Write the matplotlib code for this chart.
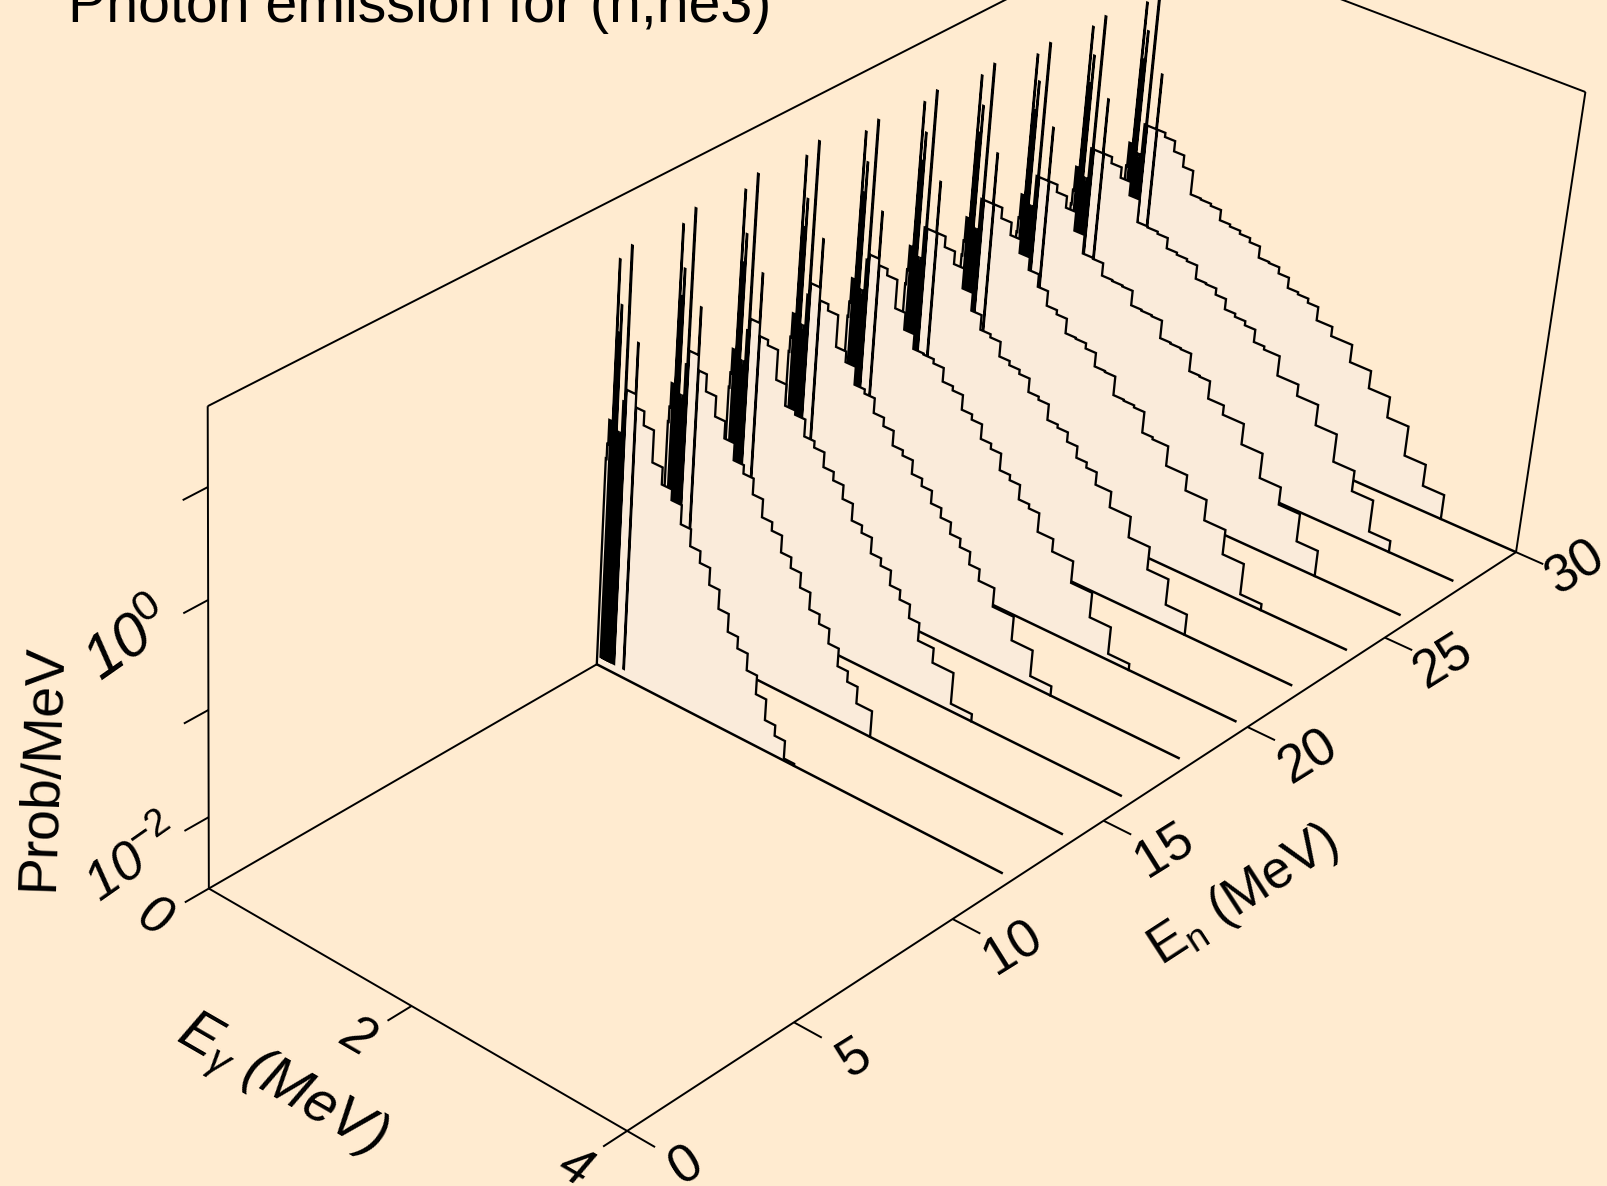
import numpy as np
import matplotlib
matplotlib.use("Agg")
import matplotlib.pyplot as plt

plt.rcParams["font.family"] = ["Liberation Sans", "DejaVu Sans"]
plt.rcParams["mathtext.fontset"] = "custom"
plt.rcParams["mathtext.rm"] = "Liberation Sans"
plt.rcParams["mathtext.it"] = "Liberation Sans:italic"

# incident energies of the slices (MeV), front to back
en_slices = [12, 14, 16, 18, 20, 22, 24, 26, 28, 30]

# photon energy bin edges of the continuum (MeV)
bin_edges = [0.27, 0.35, 0.45, 0.55, 0.65, 0.75, 0.85, 0.95, 1.05, 1.15, 1.25, 1.35, 1.45, 1.55,
             1.65, 1.75, 1.85, 1.95, 2.10, 2.30, 2.50, 2.70, 2.90, 3.10, 3.30]

# log10(prob/MeV) of the continuum bins for every slice
log_en12 = [-0.09, -0.22, -0.52, -0.68, -0.78, -0.96, -1.12, -1.23, -1.39, -1.57, -1.74, -1.85, -2.01, -2.19,
            -2.39, -2.49, -2.66]
log_en14 = [-0.06, -0.22, -0.41, -0.57, -0.73, -0.81, -0.96, -1.13, -1.21, -1.37, -1.47, -1.61, -1.77, -1.86,
            -2.00, -2.17, -2.27, -2.43]
log_en16 = [-0.05, -0.10, -0.38, -0.58, -0.62, -0.78, -0.84, -0.98, -1.06, -1.19, -1.35, -1.42, -1.57, -1.64,
            -1.78, -1.87, -2.00, -2.17, -2.31, -2.61]
log_en18 = [-0.02, -0.08, -0.38, -0.48, -0.65, -0.69, -0.83, -0.91, -1.05, -1.10, -1.23, -1.30, -1.42, -1.51,
            -1.62, -1.70, -1.82, -1.93, -2.11, -2.34, -2.59]
log_en20 = [0.01, -0.05, -0.32, -0.48, -0.62, -0.63, -0.67, -0.80, -0.84, -0.98, -1.03, -1.17, -1.22, -1.38,
            -1.43, -1.57, -1.61, -1.79, -1.91, -2.12, -2.36, -2.62]
log_en22 = [0.02, -0.08, -0.20, -0.39, -0.56, -0.70, -0.73, -0.87, -0.91, -0.95, -1.08, -1.11, -1.26, -1.29,
            -1.38, -1.49, -1.54, -1.66, -1.81, -2.01, -2.23, -2.48]
log_en24 = [0.00, -0.10, -0.22, -0.35, -0.47, -0.59, -0.73, -0.77, -0.91, -0.92, -0.97, -1.10, -1.11, -1.29,
            -1.30, -1.32, -1.52, -1.54, -1.73, -1.88, -2.08, -2.32, -2.62]
log_en26 = [-0.07, -0.14, -0.25, -0.43, -0.61, -0.62, -0.74, -0.75, -0.76, -0.90, -0.91, -0.92, -1.09, -1.10,
            -1.11, -1.28, -1.29, -1.46, -1.55, -1.75, -1.99, -2.16, -2.43]
log_en28 = [-0.09, -0.15, -0.25, -0.38, -0.60, -0.61, -0.63, -0.73, -0.75, -0.77, -0.90, -0.91, -0.97, -1.07,
            -1.10, -1.14, -1.26, -1.29, -1.48, -1.59, -1.79, -2.06, -2.26, -2.57]
log_en30 = [-0.14, -0.18, -0.28, -0.39, -0.62, -0.63, -0.65, -0.75, -0.77, -0.80, -0.84, -0.95, -0.96, -1.02,
            -1.12, -1.14, -1.18, -1.31, -1.40, -1.57, -1.74, -1.94, -2.23, -2.44]
continuum = [log_en12, log_en14, log_en16, log_en18, log_en20, log_en22, log_en24, log_en26, log_en28, log_en30]

# the four tall gamma lines, log10(prob/MeV) per slice
line_a = [1.17, 1.19, 1.21, 1.23, 1.17, 1.16, 1.13, 1.05, 1.04, 1.00]
line_b = [0.77, 0.80, 0.82, 0.85, 0.90, 0.89, 0.86, 0.81, 0.78, 0.74]
line_c = [1.34, 1.38, 1.40, 1.41, 1.32, 1.31, 1.28, 1.20, 1.18, 1.14]
line_d = [0.50, 0.52, 0.53, 0.55, 0.51, 0.50, 0.48, 0.44, 0.43, 0.39]
# level between line c and line d, above the first continuum bin
shelf = [0.12, 0.14, 0.12, 0.12, 0.06, 0.0, 0.0, 0.0, 0.0, 0.0]

# low energy part, edges and levels relative to the first continuum bin
low_edges = [0.0, 0.008, 0.018, 0.034, 0.052, 0.057, 0.065, 0.070, 0.076, 0.080, 0.088, 0.093, 0.102, 0.107,
             0.115, 0.120, 0.130, 0.135, 0.145, 0.160]
low_level = [-0.6, -0.46, -0.23, -2.5, None, -2.5, 0.45, -2.5, 0.6, -2.5, None, -2.5, -0.3, -2.5,
             -0.35, -2.5, -0.3, -2.5, 0.0]

eg_ticks = [0, 2, 4]
en_ticks = [0, 5, 10, 15, 20, 25, 30]
z_ticks = [-2, -1, 0, 1]

BG = "#ffebd0"
FILL = "#faebda"
ZMIN, ZMAX = -2.68, 1.70


def fit_camera():
    # anchor points of the box: (Eg, En, log10 P) -> pixel
    pts = [(0, 0, ZMIN, 208, 889.3), (0, 0, ZMAX, 208, 404.8), (4, 0, ZMIN, 627.2, 1130.5),
           (4, 30, ZMIN, 1516.9, 551.4), (4, 30, ZMAX, 1586.5, 92.2), (0, 30, ZMAX, 1145, -74.5),
           (2, 0, ZMIN, 412, 1006.5), (4, 5, ZMIN, 794.3, 1022.8), (4, 10, ZMIN, 953, 919.3),
           (4, 15, ZMIN, 1103.8, 822), (4, 20, ZMIN, 1245.2, 725.6), (4, 25, ZMIN, 1383.6, 637.5),
           (0, 12, ZMIN, 597.5, 664), (0, 12, ZMIN, 597.5, 664), (0, 0, 1, 208, 486.7), (0, 0, 0, 208, 600),
           (0, 0, -1, 208, 709), (0, 0, -2, 208, 816.7),
           (0.25, 12, 0.50, 637.7, 340.7), (0.25, 20, 0.51, 882.3, 219.3), (0.25, 30, 0.39, 1164, 71.7)]
    rows = []
    for eg, en, z, px, py in pts:
        u, v, w = eg / 4, en / 30, (z - ZMIN) / (ZMAX - ZMIN)
        px, py = px / 1000, py / 1000
        rows.append([u, v, w, 1, 0, 0, 0, 0, -px * u, -px * v, -px * w, -px])
        rows.append([0, 0, 0, 0, u, v, w, 1, -py * u, -py * v, -py * w, -py])
    _, _, vt = np.linalg.svd(np.array(rows))
    return vt[-1].reshape(3, 4)


CAM = fit_camera()


def project(eg, en, z):
    eg, en, z = np.asarray(eg, float), np.asarray(en, float), np.asarray(z, float)
    p = np.stack([eg / 4, en / 30, (z - ZMIN) / (ZMAX - ZMIN), np.ones_like(eg * en * z)])
    q = CAM @ p
    return 1000 * q[0] / q[2], 1000 * q[1] / q[2]


def slice_profile(i):
    # step outline of one spectrum, as photon energy and level
    cont = continuum[i]
    top = cont[0]
    eg, z = [0.0], [ZMIN]
    for j, lev in enumerate(low_level):
        if lev is None:
            val = line_a[i] if j == 4 else line_b[i]
        else:
            val = top + lev
        eg += [low_edges[j], low_edges[j + 1]]
        z += [val, val]
    extra = [(0.160, 0.167, line_c[i]), (0.167, 0.171, top - 2.5), (0.171, 0.260, top + shelf[i]),
             (0.260, 0.265, line_d[i]), (0.265, 0.27, top - 2.5)]
    for e0, e1, val in extra:
        eg += [e0, e1]
        z += [val, val]
    for j, val in enumerate(cont):
        eg += [bin_edges[j], bin_edges[j + 1]]
        z += [val, val]
    eg.append(bin_edges[len(cont)])
    z.append(ZMIN)
    return np.array(eg), np.array(z)


fig = plt.figure(figsize=(16.07, 11.86), dpi=100, facecolor=BG)
ax = fig.add_axes([0, 0, 1, 1])
ax.set_xlim(0, 1607)
ax.set_ylim(1186, 0)
ax.axis("off")


def seg(e0, n0, z0, e1, n1, z1, lw=1.4):
    x, y = project([e0, e1], [n0, n1], [z0, z1])
    ax.plot(x, y, color="k", lw=lw, solid_capstyle="butt", zorder=1)


# box
seg(0, 0, ZMIN, 0, 0, ZMAX)
seg(0, 0, ZMIN, 4, 0, ZMIN)
seg(4, 0, ZMIN, 4, 30, ZMIN)
seg(0, 0, ZMIN, 0, 30, ZMIN)
seg(4, 30, ZMIN, 4, 30, ZMAX)
seg(0, 0, ZMAX, 0, 30, ZMAX)
seg(0, 30, ZMAX, 4, 30, ZMAX)

# ticks
for t in eg_ticks:
    seg(t, 0, ZMIN, t, -0.7, ZMIN)
for t in en_ticks:
    seg(4, t, ZMIN, 4.25, t, ZMIN)
for t in z_ticks:
    seg(0, 0, t, 0, -0.7, t)

# spectra, back slice first so the front ones cover it
for i in range(len(en_slices) - 1, -1, -1):
    en = en_slices[i]
    eg, z = slice_profile(i)
    x, y = project(eg, np.full_like(eg, en), z)
    order = 2 + len(en_slices) - i
    ax.fill(x, y, color=FILL, lw=0, zorder=order)
    ax.plot(x, y, color="k", lw=1.65, solid_joinstyle="miter", zorder=order + 0.5)
    end = 4.0 if en == 30 else 3.9
    bx, by = project([0, end], [en, en], [ZMIN, ZMIN])
    ax.plot(bx, by, color="k", lw=1.8, solid_capstyle="butt", zorder=order + 0.5)

# text
ax.text(67.6, 22.5, "Photon emission for (n,he3)", fontsize=41.2, ha="left", va="baseline", color="k")
ax.text(280, 1086, r"E$_{\gamma}$ (MeV)", fontsize=41, rotation=-30, rotation_mode="anchor",
        ha="center", va="center", style="italic")
ax.text(1243, 896, r"E$_{\mathrm{n}}$ (MeV)", fontsize=38, rotation=33, rotation_mode="anchor",
        ha="center", va="center")
ax.text(43, 767, "Prob/MeV", fontsize=40, rotation=88, rotation_mode="anchor", ha="center", va="center")
ax.text(134, 861, r"10$^{-2}$", fontsize=39, rotation=35, rotation_mode="anchor", ha="center", va="center",
        style="italic")
ax.text(130, 643, r"10$^{0}$", fontsize=44, rotation=35, rotation_mode="anchor", ha="center", va="center",
        style="italic")

for lab, (tx, ty) in zip(eg_ticks, [(154, 919), (357, 1037), (574, 1168)]):
    ax.text(tx, ty, str(lab), fontsize=38, rotation=-30, rotation_mode="anchor", ha="center", va="center",
            style="italic")
en_pos = [(687, 1166), (855, 1058), (1013, 948), (1164, 850), (1308, 757), (1444, 662), (1575, 568)]
for lab, (tx, ty) in zip(en_ticks, en_pos):
    ax.text(tx, ty, str(lab), fontsize=38, rotation=32, rotation_mode="anchor", ha="center", va="center")

fig.savefig("out.png", dpi=100, facecolor=BG)
